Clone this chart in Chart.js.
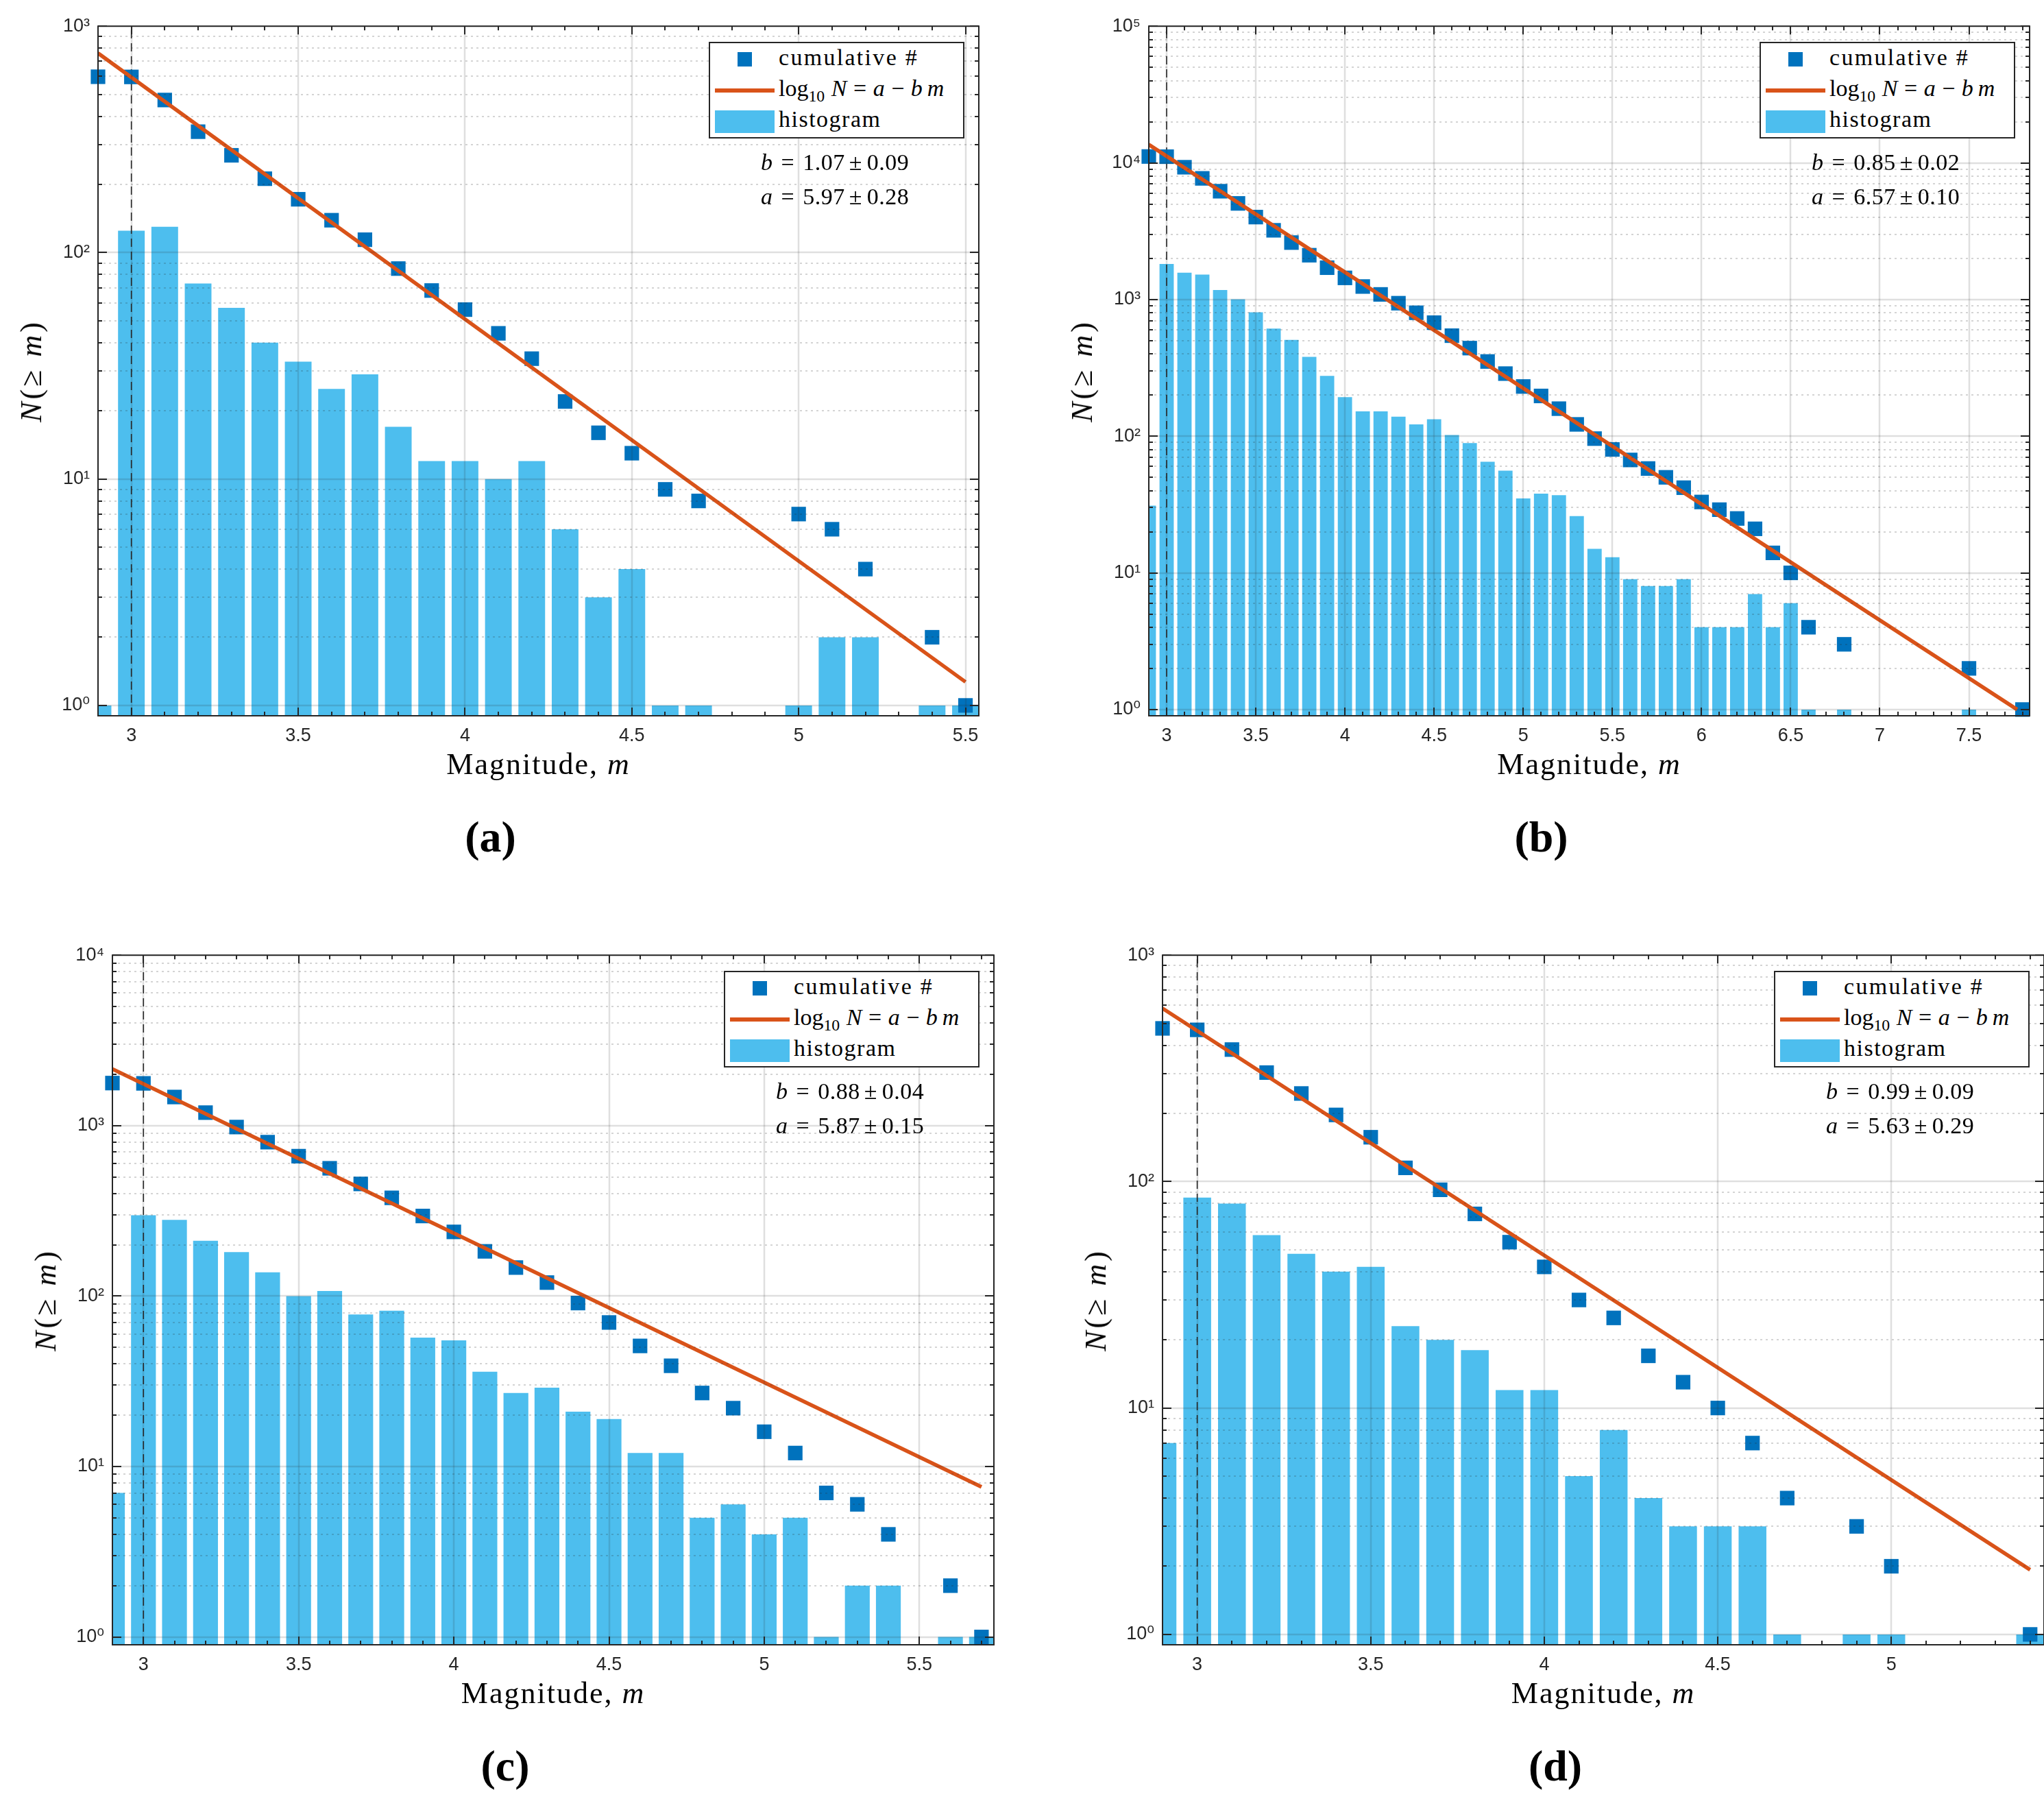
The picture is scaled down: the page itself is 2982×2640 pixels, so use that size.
<!DOCTYPE html>
<html>
<head>
<meta charset="utf-8">
<title>Magnitude-frequency distributions</title>
<style>
  html, body { margin: 0; padding: 0; background: #fff; }
  body { width: 2982px; height: 2640px; position: relative; overflow: hidden; }
  .panel { position: absolute; }
  .panel canvas { position: absolute; left: 0; top: 0; }
  .txt { position: absolute; line-height: 0; white-space: nowrap; font-family: 'Liberation Serif', serif; color: #000; }
  .legend { position: absolute; box-sizing: border-box; border: 2px solid #262626; background: #fff; }
  .sw { position: absolute; }
  .sub { font-size: 0.7em; position: relative; top: 8px; }
  .rel { margin: 0 12px; }
  .pm { margin: 0 7px 0 6px; }
</style>
</head>
<body>
<script src="https://cdn.jsdelivr.net/npm/chart.js@4.4.1/dist/chart.umd.min.js"></script>
<script>

// ---- panel (a)
const magA  = [2.9, 3.0, 3.1, 3.2, 3.3, 3.4, 3.5, 3.6, 3.7, 3.8, 3.9, 4.0, 4.1, 4.2,
               4.3, 4.4, 4.5, 4.6, 4.7, 4.8, 4.9, 5.0, 5.1, 5.2, 5.3, 5.4, 5.5];
const histA = [1, 125, 130, 73, 57, 40, 33, 25, 29, 17, 12, 12, 10, 12,
               6, 3, 4, 1, 1, 0, 0, 1, 2, 2, 0, 1, 1];
const cumA  = [598, 597, 472, 342, 269, 212, 172, 139, 114, 85, 68, 56, 44, 34,
               22, 16, 13, 9, 8, null, null, 7, 6, 4, null, 2, 1];
const fitMagA = [2.9, 5.5];
const fitNA   = [760, 1.27];
const xTicksA = [3, 3.5, 4, 4.5, 5, 5.5];
const yTicksA = [1, 10, 100, 1000];
const bValA = ['1.07', '0.09'];
const aValA = ['5.97', '0.28'];

// ---- panel (b)
const magB  = [2.9, 3.0, 3.1, 3.2, 3.3, 3.4, 3.5, 3.6, 3.7, 3.8, 3.9, 4.0, 4.1, 4.2,
               4.3, 4.4, 4.5, 4.6, 4.7, 4.8, 4.9, 5.0, 5.1, 5.2, 5.3, 5.4, 5.5, 5.6,
               5.7, 5.8, 5.9, 6.0, 6.1, 6.2, 6.3, 6.4, 6.5, 6.6, 6.7, 6.8, 6.9, 7.0,
               7.1, 7.2, 7.3, 7.4, 7.5, 7.6, 7.7, 7.8];
const histB = [31, 1820, 1570, 1520, 1175, 1005, 807, 613, 506, 381, 276, 193, 152, 152,
               139, 122, 133, 102, 89, 65, 56, 35, 38, 37, 26, 15, 13, 9,
               8, 8, 9, 4, 4, 4, 7, 4, 6, 1, 0, 1, 0, 0,
               0, 0, 0, 0, 1, 0, 0, 1];
const cumB  = [11130, 11100, 9290, 7700, 6200, 5050, 4010, 3210, 2610, 2110, 1710, 1440, 1245, 1090,
               940, 800, 677, 544, 441, 352, 287, 231, 197, 159, 122, 96, 80, 67,
               58, 50, 42, 33, 29, 25, 21, 14, 10, 4, null, 3, null, null,
               null, null, null, null, 2, null, null, 1];
const fitMagB = [2.9, 7.77];
const fitNB   = [13600, 1.0];
const xTicksB = [3, 3.5, 4, 4.5, 5, 5.5, 6, 6.5, 7, 7.5];
const yTicksB = [1, 10, 100, 1000, 10000, 100000];
const bValB = ['0.85', '0.02'];
const aValB = ['6.57', '0.10'];

// ---- panel (c)
const magC  = [2.9, 3.0, 3.1, 3.2, 3.3, 3.4, 3.5, 3.6, 3.7, 3.8, 3.9, 4.0, 4.1, 4.2,
               4.3, 4.4, 4.5, 4.6, 4.7, 4.8, 4.9, 5.0, 5.1, 5.2, 5.3, 5.4, 5.5, 5.6, 5.7];
const histC = [7, 298, 280, 211, 181, 138, 100, 107, 78, 82, 57, 55, 36, 27,
               29, 21, 19, 12, 12, 5, 6, 4, 5, 1, 2, 2, 0, 1, 1];
const cumC  = [1777, 1770, 1472, 1192, 981, 800, 662, 562, 455, 377, 295, 238, 183, 147,
               120, 91, 70, 51, 39, 27, 22, 16, 12, 7, 6, 4, null, 2, 1];
const fitMagC = [2.9, 5.7];
const fitNC   = [2150, 7.6];
const xTicksC = [3, 3.5, 4, 4.5, 5, 5.5];
const yTicksC = [1, 10, 100, 1000, 10000];
const bValC = ['0.88', '0.04'];
const aValC = ['5.87', '0.15'];

// ---- panel (d)
const magD  = [2.9, 3.0, 3.1, 3.2, 3.3, 3.4, 3.5, 3.6, 3.7, 3.8, 3.9, 4.0, 4.1,
               4.2, 4.3, 4.4, 4.5, 4.6, 4.7, 4.8, 4.9, 5.0, 5.1, 5.2, 5.3, 5.4];
const histD = [7, 85, 80, 58, 48, 40, 42, 23, 20, 18, 12, 12, 5,
               8, 4, 3, 3, 3, 1, 0, 1, 1, 0, 0, 0, 1];
const cumD  = [475, 468, 383, 303, 245, 197, 157, 115, 92, 72, 54, 42, 30,
               25, 17, 13, 10, 7, 4, null, 3, 2, null, null, null, 1];
const fitMagD = [2.9, 5.4];
const fitND   = [582, 1.93];
const xTicksD = [3, 3.5, 4, 4.5, 5];
const yTicksD = [1, 10, 100, 1000];
const bValD = ['0.99', '0.09'];
const aValD = ['5.63', '0.29'];

// completeness magnitude (dashed line) and axis lower limits
const magComplete = 3.0;
const xMin = 2.9;
const yMin = 0.9;

const BLUE = '#0072BD', ORANGE = '#D95319', SKY = '#4DBEEE', AX = '#262626';
const SUP = ['⁰', '¹', '²', '³', '⁴', '⁵'];
const PAD_L = 110, PAD_T = 20, PAD_R = 40, PAD_B = 70;
const LEG_W = 373, LEG_H = 141;

const panels = [
  { tag: '(a)', area: [143, 30, 1428, 1044], mags: magA, hist: histA, cum: cumA,
    fitM: fitMagA, fitN: fitNA, xMax: 5.54, yMax: 1000, xTicks: xTicksA, yTicks: yTicksA,
    bVal: bValA, aVal: aValA },
  { tag: '(b)', area: [1676, 30, 2961, 1044], mags: magB, hist: histB, cum: cumB,
    fitM: fitMagB, fitN: fitNB, xMax: 7.84, yMax: 100000, xTicks: xTicksB, yTicks: yTicksB,
    bVal: bValB, aVal: aValB },
  { tag: '(c)', area: [164, 1385, 1450, 2399], mags: magC, hist: histC, cum: cumC,
    fitM: fitMagC, fitN: fitNC, xMax: 5.74, yMax: 10000, xTicks: xTicksC, yTicks: yTicksC,
    bVal: bValC, aVal: aValC },
  { tag: '(d)', area: [1696, 1385, 2982, 2399], mags: magD, hist: histD, cum: cumD,
    fitM: fitMagD, fitN: fitND, xMax: 5.44, yMax: 1000, xTicks: xTicksD, yTicks: yTicksD,
    bVal: bValD, aVal: aValD },
];

Chart.defaults.font.family = "'Liberation Sans', 'DejaVu Sans', sans-serif";
Chart.defaults.color = AX;

// grid on top of the bars, box and inward ticks (matlab style)
function framePlugin(p) {
  const yMinor = [];
  p.yTicks.slice(0, -1).forEach(t => { for (let j = 2; j <= 9; j++) yMinor.push(j * t); });
  return {
    id: 'frame',
    afterDatasetsDraw(chart) {
      const { ctx, chartArea: ca } = chart;
      const x = chart.scales.x, y = chart.scales.y;
      const py = v => Math.round(y.getPixelForValue(v));
      const px = v => Math.round(x.getPixelForValue(v));

      ctx.save();
      ctx.beginPath();
      ctx.rect(ca.left, ca.top, ca.right - ca.left, ca.bottom - ca.top);
      ctx.clip();
      ctx.lineWidth = 2;
      ctx.setLineDash([3, 5]);
      ctx.strokeStyle = 'rgba(38,38,38,0.2)';
      yMinor.forEach(v => { ctx.beginPath(); ctx.moveTo(ca.left, py(v)); ctx.lineTo(ca.right, py(v)); ctx.stroke(); });
      ctx.setLineDash([]);
      ctx.lineWidth = 2.5;
      ctx.strokeStyle = 'rgba(38,38,38,0.15)';
      p.yTicks.forEach(v => { ctx.beginPath(); ctx.moveTo(ca.left, py(v)); ctx.lineTo(ca.right, py(v)); ctx.stroke(); });
      p.xTicks.forEach(v => { ctx.beginPath(); ctx.moveTo(px(v), ca.top); ctx.lineTo(px(v), ca.bottom); ctx.stroke(); });
      ctx.restore();

      ctx.save();
      ctx.strokeStyle = AX;
      ctx.lineWidth = 2;
      const xt = (v, len) => {
        ctx.beginPath();
        ctx.moveTo(px(v), ca.bottom); ctx.lineTo(px(v), ca.bottom - len);
        ctx.moveTo(px(v), ca.top); ctx.lineTo(px(v), ca.top + len);
        ctx.stroke();
      };
      const yt = (v, len) => {
        ctx.beginPath();
        ctx.moveTo(ca.left, py(v)); ctx.lineTo(ca.left + len, py(v));
        ctx.moveTo(ca.right, py(v)); ctx.lineTo(ca.right - len, py(v));
        ctx.stroke();
      };
      p.mags.forEach(m => xt(m, 6));
      p.xTicks.forEach(m => xt(m, 12));
      yMinor.forEach(v => yt(v, 6));
      p.yTicks.forEach(v => yt(v, 13));
      ctx.strokeRect(ca.left, ca.top, ca.right - ca.left, ca.bottom - ca.top);
      ctx.restore();
    }
  };
}

function addText(parent, html, x, base, size, extra) {
  const d = document.createElement('div');
  d.className = 'txt';
  d.style.cssText = `left:${x}px;top:${base - 0.3375 * size}px;font-size:${size}px;${extra || ''}`;
  d.innerHTML = html;
  parent.appendChild(d);
  return d;
}

function addSwatch(parent, x, y, w, h, color) {
  const d = document.createElement('div');
  d.className = 'sw';
  d.style.cssText = `left:${x}px;top:${y}px;width:${w}px;height:${h}px;background:${color};`;
  parent.appendChild(d);
}

function paramText(name, val) {
  return `<i>${name}</i><span class="rel">=</span>${val[0]}<span class="pm">±</span>${val[1]}`;
}

function makePanel(p) {
  const [L, T, R, B] = p.area;
  const box = document.createElement('div');
  box.className = 'panel';
  const W = R - L + PAD_L + PAD_R, H = B - T + PAD_T + PAD_B;
  box.style.cssText = `left:${L - PAD_L}px;top:${T - PAD_T}px;width:${W}px;height:${H}px;`;
  const cv = document.createElement('canvas');
  cv.width = W; cv.height = H;
  cv.style.width = W + 'px'; cv.style.height = H + 'px';
  box.appendChild(cv);
  document.body.appendChild(box);

  const chart = new Chart(cv, {
    type: 'bar',
    data: {
      datasets: [
        {
          type: 'line',
          label: 'fit',
          data: p.fitM.map((m, i) => ({ x: m, y: p.fitN[i] })),
          borderColor: ORANGE,
          borderWidth: 5.5,
          pointRadius: 0,
          order: 0,
        },
        {
          type: 'line',
          label: 'cumulative #',
          data: p.mags.map((m, i) => ({ x: m, y: p.cum[i] })),
          showLine: false,
          pointStyle: 'rect',
          pointRadius: 15,
          pointBorderWidth: 0,
          backgroundColor: BLUE,
          borderColor: BLUE,
          clip: false,
          order: 1,
        },
        {
          type: 'line',
          label: 'Mc',
          data: [{ x: magComplete, y: yMin }, { x: magComplete, y: p.yMax }],
          borderColor: AX,
          borderWidth: 1.6,
          borderDash: [12, 7],
          pointRadius: 0,
          order: 2,
        },
        {
          type: 'bar',
          label: 'histogram',
          data: p.mags.map((m, i) => ({ x: m, y: p.hist[i] > 0 ? p.hist[i] : null })),
          backgroundColor: SKY,
          borderWidth: 0,
          barPercentage: 0.8,
          categoryPercentage: 1.0,
          order: 3,
        },
      ]
    },
    options: {
      responsive: false,
      animation: false,
      layout: { padding: { left: 0, top: PAD_T, right: PAD_R, bottom: 0 } },
      plugins: { legend: { display: false }, tooltip: { enabled: false } },
      scales: {
        x: {
          type: 'linear',
          min: xMin,
          max: p.xMax,
          offset: false,
          grid: { display: false, drawTicks: false },
          border: { display: false },
          afterBuildTicks: s => { s.ticks = p.xTicks.map(v => ({ value: v })); },
          afterFit: s => { s.height = PAD_B; },
          ticks: {
            font: { size: 27 },
            color: AX,
            padding: 13,
            maxRotation: 0,
            autoSkip: false,
            callback: v => String(v),
          },
        },
        y: {
          type: 'logarithmic',
          min: yMin,
          max: p.yMax,
          grid: { display: false, drawTicks: false },
          border: { display: false },
          afterBuildTicks: s => { s.ticks = p.yTicks.map(v => ({ value: v })); },
          afterFit: s => { s.width = PAD_L; },
          ticks: {
            font: { size: 27 },
            color: AX,
            padding: 12,
            autoSkip: false,
            callback: v => '10' + SUP[Math.round(Math.log10(v))],
          },
        },
      },
    },
    plugins: [framePlugin(p)],
  });

  const ca = chart.chartArea;
  const cx = (ca.left + ca.right) / 2;
  const cy = (ca.top + ca.bottom) / 2;

  // axis labels
  addText(box, 'Magnitude, <i>m</i>', cx, ca.bottom + 86, 44, 'transform:translateX(-50%);letter-spacing:2px;');
  const yl = document.createElement('div');
  yl.style.cssText = `position:absolute;left:${ca.left - 97}px;top:${cy}px;transform:translate(-50%,-50%) rotate(-90deg);` +
    `font-family:'Liberation Serif',serif;font-size:44px;line-height:1;white-space:nowrap;letter-spacing:4px;color:#000;`;
  yl.innerHTML = '<i>N</i>(≥ <i>m</i>)';
  box.appendChild(yl);

  // panel tag
  addText(box, p.tag, cx - 70, ca.bottom + 199, 64, 'transform:translateX(-50%);font-weight:bold;');

  // legend
  const lx = ca.right - 21 - LEG_W, ly = ca.top + 23;
  const lg = document.createElement('div');
  lg.className = 'legend';
  lg.style.cssText = `left:${lx}px;top:${ly}px;width:${LEG_W}px;height:${LEG_H}px;`;
  box.appendChild(lg);
  addSwatch(lg, 40, 13, 21, 21, BLUE);
  addSwatch(lg, 7, 66, 87, 6, ORANGE);
  addSwatch(lg, 7, 98, 87, 33, SKY);
  addText(lg, 'cumulative #', 100, 32, 34, 'letter-spacing:2.3px;');
  addText(lg, 'log<span class="sub">10</span> <i>N</i> = <i>a</i> − <i>b</i>&thinsp;<i>m</i>', 100, 77, 34, 'word-spacing:1px;');
  addText(lg, 'histogram', 100, 122, 34, 'letter-spacing:1.5px;');

  // fitted parameters
  addText(box, paramText('b', p.bVal), lx + 76, ly + 187, 34, 'letter-spacing:0.5px;');
  addText(box, paramText('a', p.aVal), lx + 76, ly + 237, 34, 'letter-spacing:0.5px;');
}

panels.forEach(makePanel);

</script>
</body>
</html>
